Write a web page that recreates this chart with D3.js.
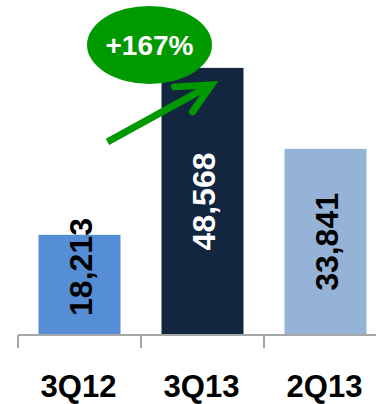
<!DOCTYPE html>
<html>
<head>
<meta charset="utf-8">
<script src="https://cdn.jsdelivr.net/npm/d3@7"></script>
<style>
  html, body { margin: 0; padding: 0; background: #fff; }
  svg { display: block; }
</style>
</head>
<body>
<svg id="chart" width="376" height="404"></svg>
<script>
// Quarterly values
const categories = ["3Q12", "3Q13", "2Q13"];
const values = [18213, 48568, 33841];
const valueLabels = ["18,213", "48,568", "33,841"];
const growthLabel = "+167%";

const barColors = ["#558ed5", "#12263f", "#95b3d7"];
const labelColors = ["#000000", "#ffffff", "#000000"];
const font = "'Liberation Sans', Arial, sans-serif";

const svg = d3.select("#chart");
const baseY = 335;

const x = d3.scaleBand()
  .domain(categories)
  .range([18, 387])
  .paddingInner(1 / 3)
  .paddingOuter(1 / 6);

const y = d3.scaleLinear()
  .domain([0, 60000])
  .range([baseY, 5]);

// Bars
svg.selectAll("rect.bar")
  .data(categories)
  .join("rect")
  .attr("class", "bar")
  .attr("x", d => x(d))
  .attr("width", x.bandwidth())
  .attr("y", (d, i) => y(values[i]))
  .attr("height", (d, i) => baseY - y(values[i]))
  .attr("fill", (d, i) => barColors[i]);

// Rotated value labels, centred in the bar but kept clear of the axis
svg.selectAll("text.val")
  .data(categories)
  .join("text")
  .attr("class", "val")
  .attr("transform", (d, i) => {
    const cx = x(d) + x.bandwidth() / 2 + 1;
    const cy = Math.min((y(values[i]) + baseY) / 2, baseY - 68);
    return `translate(${cx},${cy}) rotate(-90)`;
  })
  .attr("text-anchor", "middle")
  .attr("dy", "0.36em")
  .attr("font-family", font)
  .attr("font-weight", "bold")
  .attr("font-size", 32)
  .attr("fill", (d, i) => labelColors[i])
  .text((d, i) => valueLabels[i]);

// Category axis: baseline, tick marks between the bands, labels
const axis = svg.append("g")
  .attr("transform", `translate(0,${baseY})`);
axis.append("line")
  .attr("x1", x.range()[0]).attr("x2", 376)
  .attr("y1", 0).attr("y2", 0)
  .attr("stroke", "#a6a6a6").attr("stroke-width", 2);
const tickXs = d3.range(categories.length + 1).map(i => x.range()[0] + i * x.step());
axis.selectAll("line.tick")
  .data(tickXs)
  .join("line")
  .attr("class", "tick")
  .attr("x1", d => d).attr("x2", d => d)
  .attr("y1", 0).attr("y2", 13)
  .attr("stroke", "#a6a6a6").attr("stroke-width", 2);
axis.selectAll("text.cat")
  .data(categories)
  .join("text")
  .attr("class", "cat")
  .attr("x", d => x(d) + x.bandwidth() / 2 - 1)
  .attr("y", 62)
  .attr("text-anchor", "middle")
  .attr("font-family", font)
  .attr("font-weight", "bold")
  .attr("font-size", 31)
  .attr("fill", "#000")
  .text(d => d);

// Growth annotation: arrow and ellipse, placed against the 3Q13 bar
const bx = x(categories[1]);
const by = y(values[1]);
const green = "#009900";

const tip = [bx + 50, by + 17];
const tail = [bx - 54, by + 74];
svg.append("line")
  .attr("x1", tail[0]).attr("y1", tail[1])
  .attr("x2", tip[0] - 4).attr("y2", tip[1] + 2)
  .attr("stroke", green).attr("stroke-width", 7);
svg.append("path")
  .attr("d", `M${bx + 13},${by + 19} L${tip[0]},${tip[1]} L${bx + 31},${by + 44}`)
  .attr("fill", "none")
  .attr("stroke", green)
  .attr("stroke-width", 7)
  .attr("stroke-linecap", "round")
  .attr("stroke-linejoin", "miter");

svg.append("ellipse")
  .attr("cx", bx - 12).attr("cy", by - 23)
  .attr("rx", 62.5).attr("ry", 39)
  .attr("fill", green);
svg.append("text")
  .attr("x", bx - 12).attr("y", by - 23)
  .attr("dy", "0.36em")
  .attr("text-anchor", "middle")
  .attr("font-family", font)
  .attr("font-weight", "bold")
  .attr("font-size", 28)
  .attr("fill", "#fff")
  .text(growthLabel);
</script>
</body>
</html>
